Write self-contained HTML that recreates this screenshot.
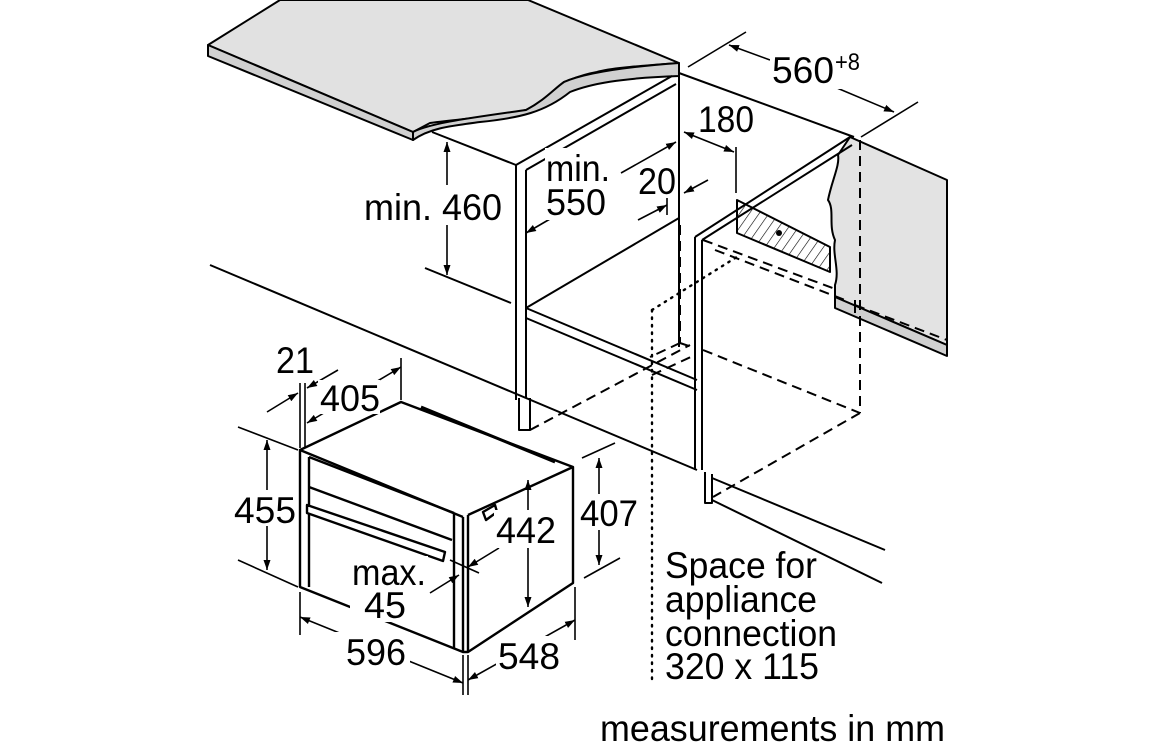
<!DOCTYPE html>
<html><head><meta charset="utf-8"><style>
html,body{margin:0;padding:0;background:#fff;}
svg{display:block;}
text{font-family:"Liberation Sans",Arial,sans-serif;fill:#000;}
</style></head><body>
<svg width="1156" height="742" viewBox="0 0 1156 742" xmlns="http://www.w3.org/2000/svg">
<defs>
<marker id="a" viewBox="0 0 10 10" refX="10" refY="5" markerWidth="10" markerHeight="10" markerUnits="userSpaceOnUse" orient="auto-start-reverse"><path d="M0,1.5 L10,5 L0,8.5z" fill="#000"/></marker>
<pattern id="h" width="8" height="8" patternUnits="userSpaceOnUse" patternTransform="rotate(35)"><line x1="0" y1="0" x2="0" y2="8" stroke="#000" stroke-width="1.2"/></pattern>
</defs>
<g stroke="#000" stroke-width="2" fill="none" stroke-linejoin="round">
<path d="M208,45 L280,0 L528,0 L679,63 C640,66 610,68 597,72 C580,75 570,80 564,82 C545,100 530,108 526,110 C500,116 470,118 430,123 L413,132 Z" fill="#e1e1e1" stroke="#000"/>
<path d="M208,45 L413,132 L413,140 L208,56 Z" fill="#d0d0d0"/>
<path d="M413,132 C430,123 470,118 526,110 C545,100 555,88 564,82 C580,75 610,68 679,63 L679,76 C620,78 590,84 570,92 C545,112 520,118 480,122 C450,126 430,128 413,140 Z" fill="#d0d0d0"/>
<path d="M850,137 L947,180 L947,345 L835,297 L835,285 C840,270 832,255 835,240 C828,225 835,210 828,200 C832,180 840,165 838,155 Z" fill="#e3e3e3"/>
<path d="M835,297 L947,345 L947,356 L835,308 Z" fill="#d0d0d0"/>
<line x1="855" y1="300" x2="855" y2="313"/>
<line x1="679" y1="73" x2="854" y2="137"/>
<line x1="679" y1="63" x2="679" y2="347"/>
<line x1="432" y1="132" x2="516" y2="165"/>
<line x1="516" y1="165" x2="516" y2="400"/>
<line x1="526" y1="170" x2="526" y2="398"/>
<line x1="516" y1="165" x2="672" y2="76"/>
<line x1="526" y1="170" x2="676" y2="84"/>
<line x1="526" y1="308" x2="679" y2="218"/>
<line x1="526" y1="308" x2="697" y2="380"/>
<line x1="526" y1="318" x2="697" y2="390"/>
<path d="M519,398 L519,430 L530,430 L530,398"/>
<line x1="210" y1="265" x2="697" y2="470"/>
<line x1="712" y1="478" x2="885" y2="550"/>
<line x1="425" y1="268" x2="511" y2="303"/>
<line x1="712" y1="500" x2="882" y2="583"/>
<line x1="695" y1="237" x2="695" y2="470"/>
<line x1="702" y1="240" x2="702" y2="470"/>
<line x1="695" y1="237" x2="850" y2="137"/>
<line x1="702" y1="240" x2="852" y2="145"/>
<path d="M705,472 L705,503 L712,503 L712,474"/>
<path d="M737,200 L737,233 L830,272 L830,247 Z" fill="url(#h)"/>
<circle cx="779" cy="233" r="3" fill="#000" stroke="none"/>
</g>
<g stroke="#000" stroke-width="2" fill="none" stroke-dasharray="10,6">
<line x1="860" y1="140" x2="860" y2="413"/>
<line x1="860" y1="413" x2="713" y2="497"/>
<line x1="703" y1="350" x2="860" y2="413"/>
<line x1="703" y1="240" x2="838" y2="290"/>
<line x1="715" y1="250" x2="845" y2="300"/>
<line x1="855" y1="305" x2="947" y2="340"/>
<line x1="680" y1="225" x2="680" y2="343"/>
<line x1="680" y1="343" x2="650" y2="357"/>
<line x1="680" y1="343" x2="695" y2="348"/>
<line x1="530" y1="430" x2="690" y2="345"/>
<line x1="652" y1="375" x2="695" y2="355"/>
</g>
<g stroke="#000" stroke-width="2.4" fill="none" stroke-dasharray="1.5,6" stroke-linecap="round">
<line x1="652" y1="310" x2="740" y2="255"/>
<line x1="652" y1="310" x2="652" y2="682"/>
</g>
<g stroke="#000" stroke-width="2.4" fill="none" stroke-linejoin="round">
<path d="M300,450 L401,402 L573,467 L573,583 L468,652 L463,652 L300,587 Z" fill="#fff"/>
<line x1="300" y1="450" x2="463" y2="517"/>
<line x1="463" y1="517" x2="463" y2="652"/>
<line x1="468" y1="515" x2="468" y2="652"/>
<line x1="468" y1="515" x2="573" y2="467"/>
<line x1="309" y1="457" x2="454" y2="513"/>
<line x1="309" y1="457" x2="309" y2="587"/>
<line x1="454" y1="513" x2="454" y2="648"/>
<line x1="309" y1="487" x2="452" y2="540"/>
<line x1="421" y1="407" x2="555" y2="462" stroke-width="3"/>
<path d="M307,505 L445,552 L443,561 L307,513 Z" fill="#fff"/>
<path d="M483,512 L495,505 L497,512 L486,520 Z"/>
</g>
<g stroke="#000" stroke-width="1.6" fill="none">
<line x1="688" y1="67" x2="746" y2="32"/>
<line x1="861" y1="137" x2="918" y2="102"/>
<line x1="770" y1="60" x2="729" y2="45" marker-end="url(#a)"/>
<line x1="837" y1="88" x2="894" y2="112" marker-end="url(#a)"/>
<line x1="736" y1="147" x2="736" y2="193"/>
<line x1="684" y1="132" x2="734" y2="152" marker-start="url(#a)" marker-end="url(#a)"/>
<line x1="708" y1="180" x2="684" y2="193" marker-end="url(#a)"/>
<line x1="638" y1="220" x2="667" y2="205" marker-end="url(#a)"/>
<line x1="667" y1="198" x2="667" y2="215"/>
<line x1="526" y1="233" x2="550" y2="219" marker-start="url(#a)"/>
<line x1="621" y1="173" x2="676" y2="142" marker-end="url(#a)"/>
<line x1="447" y1="142" x2="447" y2="275" marker-start="url(#a)" marker-end="url(#a)"/>
<line x1="300" y1="383" x2="300" y2="448"/>
<line x1="305" y1="383" x2="305" y2="448"/>
<line x1="401" y1="358" x2="401" y2="400"/>
<line x1="307" y1="423" x2="401" y2="367" marker-start="url(#a)" marker-end="url(#a)"/>
<line x1="267" y1="412" x2="298" y2="393" marker-end="url(#a)"/>
<line x1="338" y1="370" x2="307" y2="388" marker-end="url(#a)"/>
<line x1="238" y1="427" x2="298" y2="450"/>
<line x1="238" y1="560" x2="298" y2="587"/>
<line x1="267" y1="440" x2="267" y2="570" marker-start="url(#a)" marker-end="url(#a)"/>
<line x1="582" y1="458" x2="615" y2="443"/>
<line x1="584" y1="578" x2="620" y2="558"/>
<line x1="599" y1="458" x2="599" y2="565" marker-start="url(#a)" marker-end="url(#a)"/>
<line x1="528" y1="480" x2="528" y2="607" marker-start="url(#a)" marker-end="url(#a)"/>
<line x1="300" y1="592" x2="300" y2="635"/>
<line x1="463" y1="655" x2="463" y2="695"/>
<line x1="468" y1="655" x2="468" y2="695"/>
<line x1="575" y1="587" x2="575" y2="640"/>
<line x1="300" y1="617" x2="463" y2="683" marker-start="url(#a)" marker-end="url(#a)"/>
<line x1="468" y1="680" x2="575" y2="620" marker-start="url(#a)" marker-end="url(#a)"/>
<line x1="450" y1="560" x2="479" y2="573"/>
<line x1="430" y1="593" x2="459" y2="575" marker-end="url(#a)"/>
<line x1="499" y1="548" x2="468" y2="567" marker-end="url(#a)"/>
</g>
<g fill="#fff">
<rect x="362" y="185" width="140" height="40"/>
<rect x="545" y="148" width="64" height="72"/>
<rect x="232" y="490" width="66" height="36"/>
<rect x="494" y="510" width="64" height="38"/>
<rect x="578" y="494" width="62" height="36"/>
<rect x="318" y="380" width="62" height="34"/>
<rect x="318" y="632" width="92" height="36"/>
<rect x="496" y="636" width="68" height="36"/>
<rect x="350" y="556" width="78" height="66"/>
<rect x="770" y="55" width="90" height="34"/>
</g>
<g font-size="37">
<text x="772" y="83" textLength="62" lengthAdjust="spacingAndGlyphs">560</text>
<text x="835" y="70" font-size="24" textLength="25" lengthAdjust="spacingAndGlyphs">+8</text>
<text x="698" y="132" textLength="56" lengthAdjust="spacingAndGlyphs">180</text>
<text x="364" y="220" textLength="138" lengthAdjust="spacingAndGlyphs">min. 460</text>
<text x="546" y="181" textLength="64" lengthAdjust="spacingAndGlyphs">min.</text>
<text x="546" y="215" textLength="60" lengthAdjust="spacingAndGlyphs">550</text>
<text x="638" y="194" textLength="38" lengthAdjust="spacingAndGlyphs">20</text>
<text x="276" y="373" textLength="38" lengthAdjust="spacingAndGlyphs">21</text>
<text x="320" y="411" textLength="60" lengthAdjust="spacingAndGlyphs">405</text>
<text x="234" y="523" textLength="62" lengthAdjust="spacingAndGlyphs">455</text>
<text x="496" y="543" textLength="60" lengthAdjust="spacingAndGlyphs">442</text>
<text x="580" y="526" textLength="58" lengthAdjust="spacingAndGlyphs">407</text>
<text x="352" y="585" textLength="74" lengthAdjust="spacingAndGlyphs">max.</text>
<text x="364" y="618" textLength="42" lengthAdjust="spacingAndGlyphs">45</text>
<text x="346" y="665" textLength="60" lengthAdjust="spacingAndGlyphs">596</text>
<text x="498" y="669" textLength="62" lengthAdjust="spacingAndGlyphs">548</text>
<text x="665" y="578" textLength="152" lengthAdjust="spacingAndGlyphs">Space for</text>
<text x="665" y="612" textLength="152" lengthAdjust="spacingAndGlyphs">appliance</text>
<text x="665" y="646" textLength="172" lengthAdjust="spacingAndGlyphs">connection</text>
<text x="665" y="679" textLength="154" lengthAdjust="spacingAndGlyphs">320 x 115</text>
<text x="600" y="741" textLength="345" lengthAdjust="spacingAndGlyphs">measurements in mm</text>
</g>
</svg>
</body></html>
